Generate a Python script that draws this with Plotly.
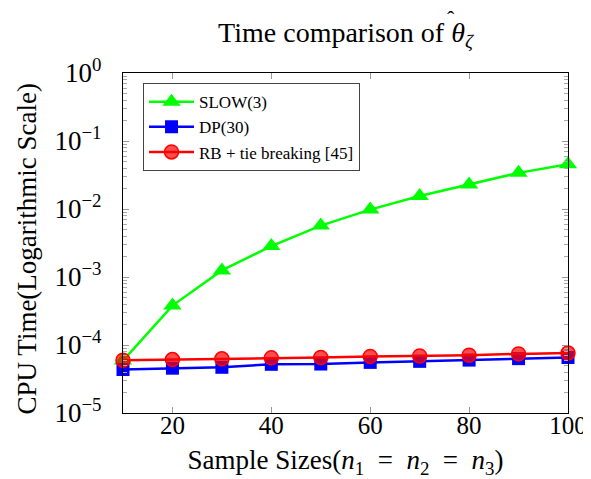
import plotly.graph_objects as go

sizes = [10, 20, 30, 40, 50, 60, 70, 80, 90, 100]
slow3 = [5.9e-5, 3.8e-4, 1.25e-3, 2.85e-3, 5.7e-3, 9.8e-3, 1.55e-2, 2.3e-2, 3.4e-2, 4.55e-2]
dp30 = [4.36e-5, 4.56e-5, 4.7e-5, 5.2e-5, 5.25e-5, 5.55e-5, 5.75e-5, 6.0e-5, 6.3e-5, 6.55e-5]
rb45 = [5.98e-5, 6.1e-5, 6.26e-5, 6.47e-5, 6.55e-5, 6.8e-5, 6.9e-5, 7.07e-5, 7.4e-5, 7.6e-5]

x_ticks = [20, 40, 60, 80, 100]
y_ticks = [1e-5, 1e-4, 1e-3, 1e-2, 1e-1, 1e0]
y_tick_text = ["10<sup>\u22125</sup>", "10<sup>\u22124</sup>", "10<sup>\u22123</sup>",
               "10<sup>\u22122</sup>", "10<sup>\u22121</sup>", "10<sup>0</sup>"]

minor_vals = [m * d for d in [1e-5, 1e-4, 1e-3, 1e-2, 1e-1] for m in range(2, 10)]

FONT = "Liberation Serif"

fig = go.Figure()
fig.add_trace(go.Scatter(
    x=sizes, y=slow3, name="SLOW(3)", mode="lines+markers",
    line=dict(color="#00ff00", width=2.5),
    marker=dict(symbol="triangle-up", size=16, color="#00ff00"),
    cliponaxis=False))
fig.add_trace(go.Scatter(
    x=sizes, y=dp30, name="DP(30)", mode="lines+markers",
    line=dict(color="#0000ff", width=2.5),
    marker=dict(symbol="square", size=13, color="#0000ff"),
    cliponaxis=False))
fig.add_trace(go.Scatter(
    x=sizes, y=rb45, name="RB + tie breaking [45]", mode="lines+markers",
    line=dict(color="#ff0000", width=2.5),
    marker=dict(symbol="circle", size=14, color="rgba(255,0,0,0.7)",
                line=dict(color="#ff0000", width=1.5)),
    cliponaxis=False))

fig.update_layout(
    width=591, height=479,
    margin=dict(l=115, r=23, t=65, b=74),
    paper_bgcolor="white", plot_bgcolor="white",
    font=dict(family=FONT, color="black", size=19),
    title=dict(text="Time comparison of <i>\u03b8</i><sub><i>\u03b6</i></sub>",
               xref="paper", x=0.5, xanchor="center", y=0.95, yanchor="middle",
               font=dict(family=FONT, size=28, color="black")),
    showlegend=True,
    legend=dict(x=0.045, y=0.97, xanchor="left", yanchor="top",
                bgcolor="white", bordercolor="#444", borderwidth=1,
                font=dict(family=FONT, size=17, color="black"),
                tracegroupgap=3, itemwidth=45),
    annotations=[
        dict(text="\u02c6", xref="paper", yref="paper", x=0.736, y=1.16,
             xanchor="center", yanchor="middle", showarrow=False,
             font=dict(family=FONT, size=22, color="black")),
        dict(text="CPU Time(Logarithmic Scale)", xref="paper", yref="paper",
             x=-0.215, y=0.482, xanchor="center", yanchor="middle", textangle=-90,
             showarrow=False, font=dict(family=FONT, size=27, color="black")),
    ],
)

fig.update_xaxes(
    range=[10, 100], tickmode="array", tickvals=x_ticks,
    ticks="inside", ticklen=6, tickcolor="#999", tickwidth=1,
    showline=True, linecolor="black", linewidth=1.2, mirror="ticks",
    showgrid=False, zeroline=False, ticklabelstandoff=-10,
    tickfont=dict(family=FONT, size=25),
    title=dict(text="Sample Sizes(<i>n</i><sub>1</sub>\u2002=\u2002<i>n</i><sub>2</sub>\u2002=\u2002<i>n</i><sub>3</sub>)",
               font=dict(family=FONT, size=27), standoff=12),
)
fig.update_yaxes(
    type="log", range=[-5, 0], tickmode="array", tickvals=y_ticks, ticktext=y_tick_text,
    ticks="inside", ticklen=6, tickcolor="#999", tickwidth=1,
    minor=dict(tickmode="array", tickvals=minor_vals, ticks="inside", ticklen=3.5,
               tickcolor="#aaa", tickwidth=1, showgrid=False),
    showline=True, linecolor="black", linewidth=1.2, mirror="ticks",
    showgrid=False, zeroline=False, ticklabelstandoff=15,
    tickfont=dict(family=FONT, size=27),
)

fig.write_html("out.html")
